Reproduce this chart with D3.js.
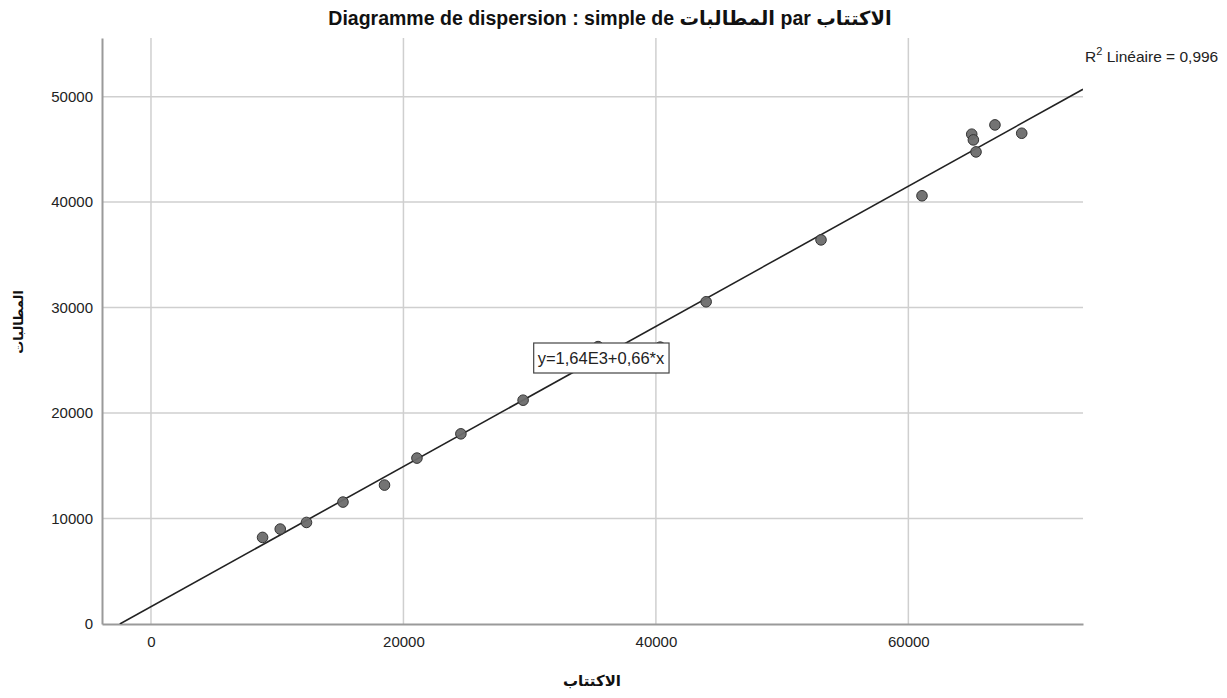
<!DOCTYPE html>
<html>
<head>
<meta charset="utf-8">
<script src="https://cdn.jsdelivr.net/npm/d3@7"></script>
<style>
  body { margin: 0; background: #fff; }
  svg { font-family: "Liberation Sans", Arial, "DejaVu Sans", sans-serif; }
  .tick text { font-size: 15px; fill: #222; }
</style>
</head>
<body>
<svg id="chart" width="1227" height="698"></svg>
<script>
// data
const subscriptions = [8840, 10240, 12320, 15210, 18500, 21070, 24550, 29480, 35420, 40340, 43980, 53080, 61080, 65020, 65150, 65360, 66860, 68980];
const claims = [8210, 9000, 9630, 11560, 13170, 15730, 18030, 21220, 26300, 26250, 30550, 36420, 40600, 46440, 45900, 44760, 47320, 46530];
const xTicks = [0, 20000, 40000, 60000];
const yTicks = [0, 10000, 20000, 30000, 40000, 50000];
const fitIntercept = 1640;
const fitSlope = 0.6645;
const eqLabel = "y=1,64E3+0,66*x";
const r2Value = "0,996";

const svg = d3.select("#chart");
const margin = { top: 38, right: 144, bottom: 74, left: 102 };
const width = +svg.attr("width");
const height = +svg.attr("height");

const x = d3.scaleLinear().domain([-3880, 73835]).range([margin.left, width - margin.right]);
const y = d3.scaleLinear().domain([0, 55560]).range([height - margin.bottom, margin.top]);

// grid
svg.append("g")
  .selectAll("line")
  .data(xTicks)
  .join("line")
  .attr("x1", d => x(d)).attr("x2", d => x(d))
  .attr("y1", y.range()[1]).attr("y2", y.range()[0])
  .attr("stroke", "#cfcfcf").attr("stroke-width", 1.5);

svg.append("g")
  .selectAll("line")
  .data(yTicks.filter(d => d > 0))
  .join("line")
  .attr("x1", x.range()[0]).attr("x2", x.range()[1])
  .attr("y1", d => y(d)).attr("y2", d => y(d))
  .attr("stroke", "#cfcfcf").attr("stroke-width", 1.5);

// axes
const xAxis = svg.append("g")
  .attr("transform", `translate(0,${y.range()[0]})`)
  .call(d3.axisBottom(x).tickValues(xTicks).tickSize(0).tickPadding(12).tickFormat(d3.format("d")));
const yAxis = svg.append("g")
  .attr("transform", `translate(${x.range()[0]},0)`)
  .call(d3.axisLeft(y).tickValues(yTicks).tickSize(0).tickPadding(9).tickFormat(d3.format("d")));
[xAxis, yAxis].forEach(a => {
  a.select(".domain").attr("stroke", "#9a9a9a").attr("stroke-width", 2);
});

// fit line
const clipId = "plotclip";
svg.append("clipPath").attr("id", clipId)
  .append("rect")
  .attr("x", x.range()[0]).attr("y", y.range()[1])
  .attr("width", x.range()[1] - x.range()[0])
  .attr("height", y.range()[0] - y.range()[1]);

const x0 = -fitIntercept / fitSlope;
const x1 = x.domain()[1];
svg.append("line")
  .attr("clip-path", `url(#${clipId})`)
  .attr("x1", x(x0)).attr("y1", y(fitIntercept + fitSlope * x0))
  .attr("x2", x(x1)).attr("y2", y(fitIntercept + fitSlope * x1))
  .attr("stroke", "#222").attr("stroke-width", 1.6);

// points
svg.append("g")
  .selectAll("circle")
  .data(subscriptions.map((v, i) => [v, claims[i]]))
  .join("circle")
  .attr("cx", d => x(d[0]))
  .attr("cy", d => y(d[1]))
  .attr("r", 5.3)
  .attr("fill", "#6b6b6b")
  .attr("stroke", "#333")
  .attr("stroke-width", 1)
  .attr("fill-opacity", 0.95);

// equation box
const eqX = 601, eqY = 358;
const eqG = svg.append("g");
const eqText = eqG.append("text")
  .attr("x", eqX).attr("y", eqY + 6)
  .attr("text-anchor", "middle")
  .attr("font-size", 16.5)
  .attr("fill", "#222")
  .text(eqLabel);
const bb = eqText.node().getBBox();
eqG.insert("rect", "text")
  .attr("x", bb.x - 4).attr("y", eqY - 15)
  .attr("width", bb.width + 8).attr("height", 30)
  .attr("fill", "#fff").attr("stroke", "#444").attr("stroke-width", 1.2);

// R² label
const r2 = svg.append("text")
  .attr("x", 1085).attr("y", 62)
  .attr("font-size", 15.5)
  .attr("fill", "#222");
r2.append("tspan").text("R");
r2.append("tspan").attr("dy", -7).attr("font-size", 11).text("2");
r2.append("tspan").attr("dy", 7).text(" Linéaire = " + r2Value);

// title
svg.append("text")
  .attr("x", 610).attr("y", 25)
  .attr("text-anchor", "middle")
  .attr("font-size", 19.5)
  .attr("font-weight", "bold")
  .attr("fill", "#111")
  .attr("direction", "ltr")
  .text("Diagramme de dispersion : simple de المطالبات par الاكتتاب");

// axis titles
svg.append("text")
  .attr("x", 592).attr("y", 686)
  .attr("text-anchor", "middle")
  .attr("font-size", 15)
  .attr("font-weight", "bold")
  .attr("fill", "#111")
  .text("الاكتتاب");

svg.append("text")
  .attr("transform", "translate(23,322) rotate(-90)")
  .attr("text-anchor", "middle")
  .attr("font-size", 13)
  .attr("font-weight", "bold")
  .attr("fill", "#111")
  .text("المطالبات");
</script>
</body>
</html>
